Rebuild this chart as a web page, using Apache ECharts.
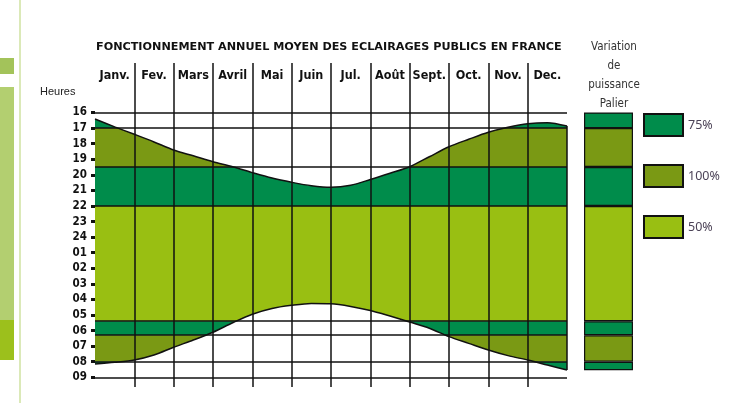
<!DOCTYPE html>
<html>
<head>
<meta charset="utf-8">
<script src="https://cdn.jsdelivr.net/npm/echarts@6/dist/echarts.min.js"></script>
<style>
  html, body { margin: 0; padding: 0; background: #fff; }
  #main { width: 747px; height: 403px; }
</style>
</head>
<body>
<div id="main"></div>
<script>
// months (columns) and hour scale: 16h at top, 09h next morning at bottom (24 -> 01 = 25 ...)
const months = ['Janv.', 'Fev.', 'Mars', 'Avril', 'Mai', 'Juin', 'Jul.', 'Août', 'Sept.', 'Oct.', 'Nov.', 'Dec.'];
const hourTicks = [16, 17, 18, 19, 20, 21, 22, 23, 24, 25, 26, 27, 28, 29, 30, 31, 32, 33];
const hourLabels = ['16', '17', '18', '19', '20', '21', '22', '23', '24', '01', '02', '03', '04', '05', '06', '07', '08', '09'];

// position along the year, in months (read every half month)
const monthPos = [0, 0.5, 1, 1.5, 2, 2.5, 3, 3.5, 4, 4.5, 5, 5.5, 6, 6.5, 7, 7.5, 8, 8.5, 9, 9.5, 10, 10.5, 11, 11.5, 12];
// switch-on (sunset) and switch-off (sunrise) hours
const switchOn = [16.42, 16.92, 17.40, 17.89, 18.41, 18.78, 19.16, 19.48, 19.86, 20.21, 20.48, 20.70, 20.80,
                  20.67, 20.30, 19.90, 19.48, 18.84, 18.20, 17.72, 17.27, 16.95, 16.72, 16.65, 16.87];
const switchOff = [32.15, 32.04, 31.89, 31.57, 31.07, 30.61, 30.11, 29.50, 28.95, 28.58, 28.38, 28.26, 28.28,
                   28.45, 28.71, 29.07, 29.45, 29.85, 30.39, 30.82, 31.25, 31.61, 31.89, 32.21, 32.53];

// power levels ("palier"): hour where each level starts, and its level
const levelStart = [16, 17, 19.5, 22, 29.4, 30.3, 32];
const levelName = ['75%', '100%', '75%', '50%', '75%', '100%', '75%'];
const nightEnd = 33;
const palierEnd = 32.55;
const legendOrder = ['75%', '100%', '50%'];

const levelColor = { '75%': '#008c4b', '100%': '#7a9914', '50%': '#99bf12' };
const cond = "'Liberation Sans Narrow', 'DejaVu Sans Condensed', 'Liberation Sans', sans-serif";

const yMin = 12.822, yMax = 33.623;

const chart = echarts.init(document.getElementById('main'), null, { renderer: 'canvas' });

const zip = (xs, ys) => xs.map((x, i) => [x, ys[i]]);

// main bands
const bandAreas = levelStart.map((s, i) => [
  { yAxis: s, itemStyle: { color: levelColor[levelName[i]] } },
  { yAxis: i + 1 < levelStart.length ? levelStart[i + 1] : nightEnd }
]);

// palier column (stacked bars)
const palierSeries = [{
  type: 'bar', xAxisIndex: 2, yAxisIndex: 1, stack: 'p', data: [levelStart[0]],
  barWidth: '100%', silent: true, itemStyle: { color: 'rgba(0,0,0,0)' }
}];
levelStart.forEach((s, i) => {
  const e = i + 1 < levelStart.length ? levelStart[i + 1] : palierEnd;
  palierSeries.push({
    name: levelName[i], type: 'bar', xAxisIndex: 2, yAxisIndex: 1, stack: 'p',
    data: [+(e - s).toFixed(3)], barWidth: '100%', silent: true,
    itemStyle: { color: levelColor[levelName[i]], borderColor: '#111', borderWidth: 1.2 }
  });
});

const last = monthPos.length - 1;

const option = {
  animation: false,
  backgroundColor: '#fff',
  title: [
    {
      text: 'FONCTIONNEMENT ANNUEL MOYEN DES ECLAIRAGES PUBLICS EN FRANCE',
      left: 91, top: 37,
      textStyle: { fontFamily: 'DejaVu Sans', fontWeight: 'bold', fontSize: 11.2, color: '#111' }
    },
    {
      text: 'Heures', left: 35, top: 81,
      textStyle: { fontFamily: 'Liberation Sans', fontWeight: 'normal', fontSize: 11, color: '#222' }
    },
    {
      text: 'Variation\nde\npuissance\nPalier', left: 609, top: 33, textAlign: 'center',
      textStyle: { fontFamily: cond, fontWeight: 'normal', fontSize: 11.5, lineHeight: 19, color: '#333' }
    }
  ],
  legend: {
    data: legendOrder, orient: 'vertical', left: 643, top: 113, padding: 0,
    itemWidth: 39, itemHeight: 22, itemGap: 27, selectedMode: false, icon: 'rect',
    textStyle: { fontFamily: 'Noto Sans', fontSize: 12.5, color: '#4c4357' }
  },
  grid: [
    { left: 95, right: 180, top: 63, bottom: 16 },
    { left: 584, width: 49, top: 63, bottom: 16 }
  ],
  xAxis: [
    {
      type: 'value', gridIndex: 0, min: 0, max: 12, interval: 1, z: 6,
      axisLine: { show: false }, axisTick: { show: false }, axisLabel: { show: false },
      splitLine: { show: true, showMinLine: false, showMaxLine: false, lineStyle: { color: '#111', width: 1.5 } }
    },
    {
      type: 'category', gridIndex: 0, position: 'top', data: months, boundaryGap: true, z: 6,
      axisLine: { show: false }, axisTick: { show: false }, splitLine: { show: false },
      axisLabel: { inside: true, interval: 0, hideOverlap: false, margin: 6, color: '#111', fontFamily: cond, fontWeight: 'bold', fontSize: 12.5 }
    },
    {
      type: 'category', gridIndex: 1, data: ['Palier'], show: false
    }
  ],
  yAxis: [
    {
      type: 'value', gridIndex: 0, inverse: true, min: yMin, max: yMax, z: 6,
      axisLine: { show: false }, splitLine: { show: false },
      axisTick: { show: true, customValues: hourTicks, length: 4, lineStyle: { color: '#111', width: 3 } },
      axisLabel: {
        customValues: hourTicks, margin: 8, color: '#111', fontFamily: cond, fontWeight: 'bold', fontSize: 11.5,
        formatter: v => hourLabels[hourTicks.indexOf(v)]
      }
    },
    { type: 'value', gridIndex: 1, inverse: true, min: yMin, max: yMax, show: false }
  ],
  series: [
    {
      type: 'line', xAxisIndex: 0, yAxisIndex: 0, data: [], z: 1, silent: true,
      markArea: { silent: true, data: bandAreas }
    },
    {
      type: 'line', xAxisIndex: 0, yAxisIndex: 0, data: zip(monthPos, switchOn), z: 3,
      smooth: 0.3, symbol: 'none', silent: true,
      lineStyle: { color: '#111', width: 1.5 },
      areaStyle: { color: '#fff', opacity: 1, origin: 'start' }
    },
    {
      type: 'line', xAxisIndex: 0, yAxisIndex: 0, data: zip(monthPos, switchOff), z: 3,
      smooth: 0.3, symbol: 'none', silent: true,
      lineStyle: { color: '#111', width: 1.5 },
      areaStyle: { color: '#fff', opacity: 1, origin: 'end' }
    },
    {
      type: 'line', xAxisIndex: 0, yAxisIndex: 0, data: [], z: 5, silent: true,
      markLine: {
        silent: true, symbol: 'none', animation: false,
        label: { show: false },
        lineStyle: { color: '#111', width: 1.5, type: 'solid' },
        data: levelStart.concat([nightEnd]).map(h => ({ yAxis: h })).concat([[
          { coord: [monthPos[last], switchOn[last]] },
          { coord: [monthPos[last], switchOff[last]] }
        ]])
      }
    }
  ].concat(palierSeries),
  graphic: [
    { type: 'rect', left: 0, top: 58, shape: { width: 14, height: 16 }, style: { fill: '#a3c35a' } },
    { type: 'rect', left: 0, top: 87, shape: { width: 14, height: 233 }, style: { fill: '#b3cf70' } },
    { type: 'rect', left: 0, top: 320, shape: { width: 14, height: 40 }, style: { fill: '#9cc01c' } },
    { type: 'rect', left: 19, top: 0, shape: { width: 2, height: 403 }, style: { fill: '#dbe9b8' } }
  ]
};

chart.setOption(option);
</script>
</body>
</html>
